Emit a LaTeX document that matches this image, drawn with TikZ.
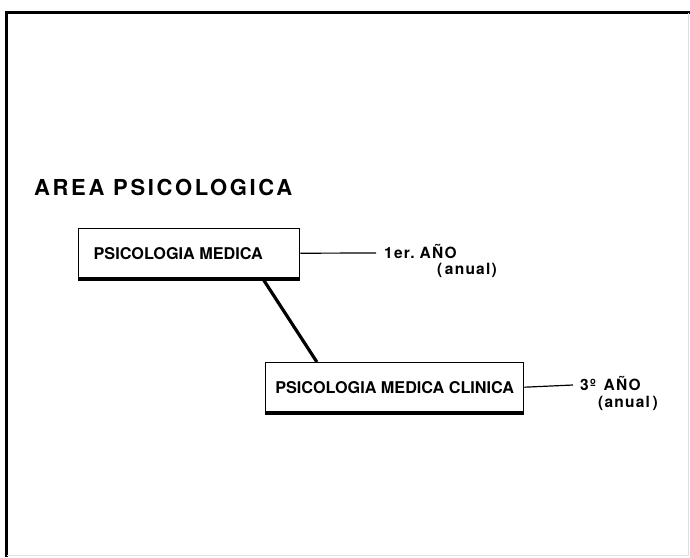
\documentclass[tikz,border=0pt]{standalone}
\usepackage{fontspec}
\setmainfont{TeX Gyre Heros}
\newfontfamily\titlefont[LetterSpace=12]{TeX Gyre Heros}
\newfontfamily\labfont[LetterSpace=8]{TeX Gyre Heros}
\usetikzlibrary{calc}
\begin{document}
\begin{tikzpicture}[x=1pt,y=1pt,
  box/.style={draw=black, line width=1.4pt, rectangle, minimum height=49pt, inner sep=0pt, font=\fontsize{16.2}{19}\selectfont\bfseries},
  lab/.style={inner sep=0pt, font=\labfont\fontsize{15.5}{17}\selectfont\bfseries},
  link/.style={line width=1.2pt}]
\useasboundingbox (0,0) rectangle (690,-557);
\fill[white] (0,0) rectangle (690,-557);
% frame
\draw[line width=2.8pt] (6.5,-557) -- (6.5,-12.5) -- (690,-12.5);
\draw[black!12, line width=0.8pt] (688.5,-12.5) -- (688.5,-555.5) -- (6.5,-555.5);
% title
\node[inner sep=0pt, anchor=base west, font=\titlefont\fontsize{22}{25}\selectfont\bfseries] (title) at (34,-195) {AREA PSICOLOGICA};
% boxes
\node[box, anchor=north west, minimum width=221pt] (b1) at (78,-228) {\hspace*{-22pt}PSICOLOGIA MEDICA};
\node[box, anchor=north west, minimum width=258pt] (b2) at (265,-362) {PSICOLOGIA MEDICA CLINICA};
\draw[line width=3pt] ([yshift=-0.8pt]b1.south west) -- ([yshift=-0.8pt]b1.south east);
\draw[line width=3pt] ([yshift=-0.8pt]b2.south west) -- ([yshift=-0.8pt]b2.south east);
% connector
\draw[line width=3.2pt] ($(b1.south west)!0.83!(b1.south east)$) -- ($(b2.north west)!0.2!(b2.north east)$);
% labels
\coordinate (e1) at (376,-253);
\coordinate (e2) at (573,-385);
\draw[link] (b1.east) -- (e1);
\draw[link] (b2.east) -- (e2);
\node[lab, anchor=base west] (l1) at (384,-258) {1er.\hspace{5pt}AÑO};
\node[lab, anchor=base west] (l1b) at (437,-274) {(\,anual)};
\node[lab, anchor=base west] (l2) at (580,-390) {3º\hspace{8pt}AÑO};
\node[lab, anchor=base west] (l2b) at (598,-407) {(anual\,)};
\end{tikzpicture}
\end{document}
